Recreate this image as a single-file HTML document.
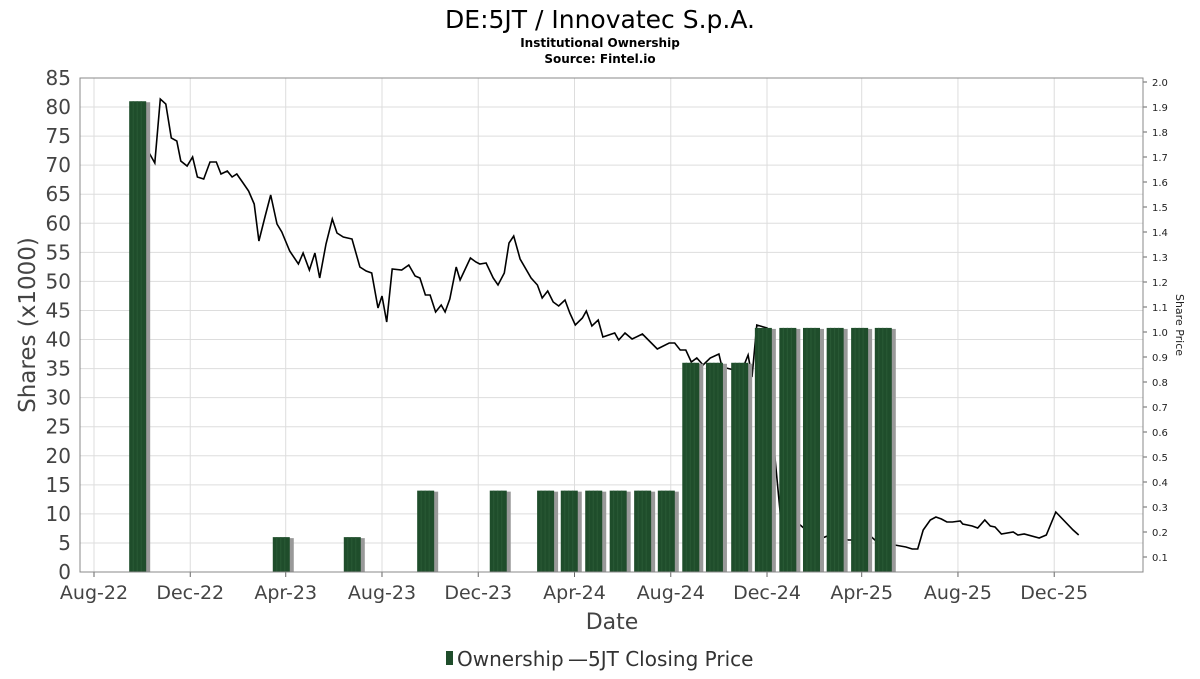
<!DOCTYPE html>
<html><head><meta charset="utf-8"><style>
body{margin:0;background:#fff;font-family:"DejaVu Sans","Liberation Sans",sans-serif}
svg text{font-family:"DejaVu Sans","Liberation Sans",sans-serif}
</style></head><body>
<svg id="c" width="1200" height="675" xmlns="http://www.w3.org/2000/svg">
<text x="600" y="28" text-anchor="middle" font-size="25" fill="#000">DE:5JT / Innovatec S.p.A.</text>
<text x="600" y="47" text-anchor="middle" font-size="12" font-weight="bold">Institutional Ownership</text>
<text x="600" y="63" text-anchor="middle" font-size="12" font-weight="bold">Source: Fintel.io</text>
<g id="grid"></g><g id="line"></g><g id="bars"></g><g id="axes"></g>
<text transform="translate(35,325) rotate(-90)" text-anchor="middle" font-size="23" fill="#444">Shares (x1000)</text>
<text transform="translate(1176,325) rotate(90)" text-anchor="middle" font-size="11" fill="#222">Share Price</text>
<text x="612" y="629" text-anchor="middle" font-size="22" fill="#444">Date</text>
<g>
<rect x="446" y="651" width="7" height="14" fill="#1f4d2b"/>
<text x="457" y="666" font-size="20" fill="#333">Ownership</text>
<text x="568" y="666" font-size="20" fill="#333">—5JT Closing Price</text>
</g>
</svg>
<script>
const barDays=[56,238,328,421,513,573,603,634,665,696,726,757,787,819,849,880,910,940,971,1001];
const barValues=[81,6,6,14,14,14,14,14,14,14,14,36,36,36,42,42,42,42,42,42];
const priceDays=[70,77,84,91,98,105,110,118,125,131,139,147,155,161,169,175,181,189,196,203,209,217,224,232,238,248,259,265,273,280,286,294,302,308,316,327,337,345,352,360,365,371,378,390,399,407,413,420,426,433,440,445,451,459,464,477,484,489,497,506,512,520,526,532,540,554,562,568,575,582,589,597,603,610,619,624,631,639,645,660,665,673,682,695,714,729,736,743,750,757,764,772,781,792,796,809,821,829,834,840,853,861,870,882,892,901,914,923,933,956,966,977,984,994,1015,1029,1037,1044,1051,1060,1067,1074,1081,1088,1098,1101,1113,1120,1129,1136,1142,1150,1165,1171,1179,1198,1207,1219,1241,1248,1270];
const priceValues=[1.716,1.676,1.932,1.912,1.776,1.764,1.684,1.664,1.70,1.62,1.612,1.68,1.68,1.632,1.644,1.62,1.632,1.596,1.564,1.512,1.364,1.464,1.548,1.432,1.40,1.324,1.272,1.316,1.248,1.316,1.216,1.352,1.452,1.396,1.38,1.372,1.26,1.244,1.236,1.096,1.144,1.04,1.252,1.248,1.268,1.224,1.216,1.148,1.148,1.08,1.108,1.08,1.132,1.26,1.208,1.296,1.28,1.272,1.276,1.216,1.188,1.236,1.356,1.384,1.292,1.216,1.188,1.136,1.164,1.12,1.104,1.128,1.076,1.028,1.056,1.084,1.024,1.048,0.98,0.996,0.968,0.996,0.972,0.992,0.932,0.956,0.956,0.928,0.928,0.88,0.896,0.868,0.896,0.912,0.86,0.85,0.845,0.908,0.82,1.028,1.016,0.568,0.268,0.248,0.236,0.212,0.208,0.176,0.188,0.168,0.168,0.176,0.184,0.156,0.148,0.14,0.132,0.132,0.208,0.248,0.26,0.252,0.24,0.24,0.244,0.232,0.224,0.216,0.248,0.224,0.22,0.192,0.20,0.188,0.192,0.176,0.188,0.28,0.208,0.188];
const xTickDays=[0,122,243,365,487,609,731,853,973,1095,1217];
const xTickLabels=["Aug-22","Dec-22","Apr-23","Aug-23","Dec-23","Apr-24","Aug-24","Dec-24","Apr-25","Aug-25","Dec-25"];
const yTicks=[0,5,10,15,20,25,30,35,40,45,50,55,60,65,70,75,80,85];
const y2Ticks=[0.1,0.2,0.3,0.4,0.5,0.6,0.7,0.8,0.9,1.0,1.1,1.2,1.3,1.4,1.5,1.6,1.7,1.8,1.9,2.0];
const L=80,R=1143,T=78,B=572,NS="http://www.w3.org/2000/svg";
const xs=d=>94+d*0.789, ys=v=>B-v*(B-T)/85, yp=p=>582-p*250;
function mk(g,tag,a){const e=document.createElementNS(NS,tag);for(const k in a)e.setAttribute(k,a[k]);document.getElementById(g).appendChild(e);return e;}
yTicks.forEach(v=>{const l=mk('grid','line',{x1:L,x2:R,y1:ys(v),y2:ys(v),stroke:'#ddd'});

const t=mk('axes','text',{x:L-9,y:ys(v)+7,'text-anchor':'end','font-size':20,fill:'#444'});t.textContent=v;
});
xTickDays.forEach((d,i)=>{const l=mk('grid','line',{x1:xs(d),x2:xs(d),y1:T,y2:B,stroke:'#ddd'});

mk('axes','line',{x1:xs(d),x2:xs(d),y1:B,y2:B+5,stroke:'#666'});
const t=mk('axes','text',{x:xs(d),y:B+27,'text-anchor':'middle','font-size':19,fill:'#444'});t.textContent=xTickLabels[i];
});
y2Ticks.forEach(p=>{const t=mk('axes','text',{x:R+9,y:yp(p)+4,'font-size':10,fill:'#222'});t.textContent=p.toFixed(1);

mk('axes','line',{x1:R,x2:R+4,y1:yp(p),y2:yp(p),stroke:'#666'});});
const pts=priceDays.map((d,i)=>xs(d).toFixed(1)+','+yp(priceValues[i]).toFixed(1)).join(' ');
const pl=mk('line','polyline',{points:pts,fill:'none',stroke:'#000','stroke-width':1.6});

barDays.forEach((d,i)=>{const x=xs(d)-9,y=ys(barValues[i]);
mk('bars','rect',{x:x+3,y:y+1,width:18,height:B-y-1,fill:'#999'});
const r=mk('bars','rect',{x:x,y:y,width:17,height:B-y,fill:'#1f4d2b'});

[4,8,12].forEach(o=>mk('bars','line',{x1:x+o,x2:x+o,y1:y,y2:B,stroke:'#2a5a36','stroke-width':1}));});
const fr=mk('axes','rect',{x:L,y:T,width:R-L,height:B-T,fill:'none',stroke:'#888'});

</script>
</body></html>
